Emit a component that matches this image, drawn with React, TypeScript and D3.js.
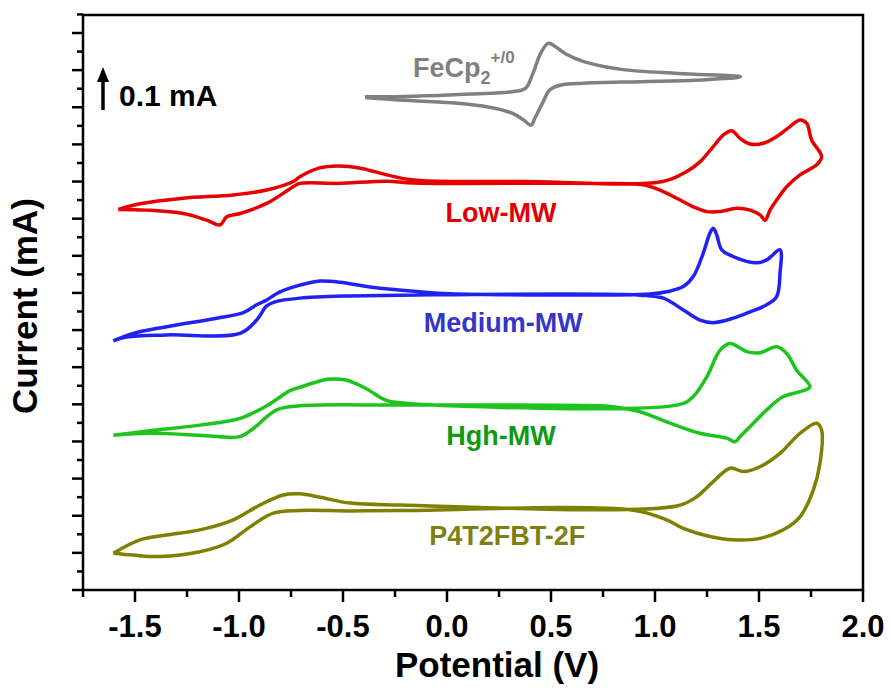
import React from "react";
import * as d3 from "d3";

// potential (V), current (mA, already offset as plotted)
const ferrocene: [number, number][] = [
  [-0.394, 1.328], [-0.159, 1.33], [0.114, 1.336], [0.313, 1.342], [0.377, 1.351],
  [0.413, 1.391], [0.45, 1.445], [0.486, 1.472], [0.522, 1.463], [0.567, 1.445],
  [0.658, 1.423], [0.839, 1.402], [1.112, 1.391], [1.411, 1.382],
  [1.202, 1.373], [0.93, 1.369], [0.658, 1.365], [0.549, 1.36], [0.495, 1.347],
  [0.459, 1.311], [0.422, 1.27], [0.404, 1.252], [0.368, 1.266], [0.313, 1.284],
  [0.204, 1.3], [0.023, 1.312], [-0.249, 1.32], [-0.394, 1.326],
];

const lowMW: [number, number][] = [
  [-1.58, 1.025], [-1.476, 1.04], [-1.268, 1.055], [-1.027, 1.064], [-0.867, 1.077],
  [-0.739, 1.1], [-0.707, 1.113], [-0.616, 1.136], [-0.525, 1.142], [-0.416, 1.136],
  [-0.289, 1.118], [-0.163, 1.104], [0.38, 1.1], [1.038, 1.1], [1.152, 1.127],
  [1.216, 1.153], [1.28, 1.194], [1.328, 1.225], [1.369, 1.237], [1.409, 1.216],
  [1.457, 1.201], [1.521, 1.203], [1.585, 1.221], [1.649, 1.248], [1.697, 1.266],
  [1.729, 1.257], [1.753, 1.212], [1.801, 1.167], [1.777, 1.145], [1.697, 1.118],
  [1.633, 1.086], [1.585, 1.05], [1.553, 1.023], [1.529, 0.996], [1.505, 1.01],
  [1.457, 1.023], [1.393, 1.028], [1.313, 1.019], [1.249, 1.019], [1.184, 1.032],
  [1.104, 1.055], [1.024, 1.077], [0.944, 1.091], [0.736, 1.095], [-0.163, 1.096],
  [-0.289, 1.101], [-0.525, 1.095], [-0.707, 1.095], [-0.739, 1.086], [-0.867, 1.041],
  [-0.995, 1.014], [-1.059, 1.005], [-1.091, 0.983], [-1.155, 0.996], [-1.268, 1.014],
  [-1.444, 1.023], [-1.58, 1.025],
];

const mediumMW: [number, number][] = [
  [-1.604, 0.671], [-1.508, 0.691], [-1.348, 0.709], [-1.107, 0.732], [-0.979, 0.747],
  [-0.915, 0.768], [-0.867, 0.781], [-0.803, 0.803], [-0.707, 0.821], [-0.611, 0.832],
  [-0.514, 0.829], [-0.37, 0.816], [-0.13, 0.803], [0.014, 0.798], [0.976, 0.797],
  [1.056, 0.803], [1.136, 0.817], [1.184, 0.844], [1.232, 0.907], [1.264, 0.961],
  [1.28, 0.974], [1.297, 0.956], [1.321, 0.916], [1.376, 0.898], [1.489, 0.881],
  [1.537, 0.889], [1.601, 0.916], [1.601, 0.853], [1.585, 0.79], [1.537, 0.768],
  [1.457, 0.749], [1.376, 0.732], [1.28, 0.72], [1.216, 0.727], [1.136, 0.754],
  [1.04, 0.786], [0.928, 0.794], [-0.226, 0.794], [-0.466, 0.792], [-0.707, 0.786],
  [-0.827, 0.776], [-0.867, 0.765], [-0.915, 0.727], [-0.995, 0.691], [-1.348, 0.687],
  [-1.54, 0.681], [-1.604, 0.671],
];

const highMW: [number, number][] = [
  [-1.604, 0.417], [-1.428, 0.429], [-1.188, 0.444], [-0.995, 0.462], [-0.867, 0.496],
  [-0.755, 0.537], [-0.707, 0.546], [-0.611, 0.563], [-0.563, 0.568], [-0.49, 0.566],
  [-0.394, 0.544], [-0.298, 0.512], [-0.226, 0.504], [1.12, 0.5], [1.184, 0.521],
  [1.249, 0.574], [1.313, 0.646], [1.361, 0.664], [1.441, 0.642], [1.505, 0.639],
  [1.585, 0.655], [1.633, 0.637], [1.681, 0.592], [1.745, 0.547], [1.697, 0.534],
  [1.617, 0.521], [1.537, 0.485], [1.473, 0.449], [1.409, 0.413], [1.385, 0.399],
  [1.345, 0.409], [1.216, 0.422], [1.056, 0.453], [0.928, 0.48], [0.816, 0.492],
  [0.736, 0.496], [-0.226, 0.498], [-0.707, 0.496], [-0.819, 0.485], [-0.931, 0.435],
  [-0.995, 0.413], [-1.188, 0.417], [-1.428, 0.422], [-1.604, 0.417],
];

const p4t2fbt: [number, number][] = [
  [-1.604, 0.099], [-1.476, 0.135], [-1.348, 0.148], [-1.188, 0.162], [-1.027, 0.189],
  [-0.899, 0.229], [-0.787, 0.256], [-0.707, 0.259], [-0.611, 0.25], [-0.466, 0.234],
  [-0.226, 0.229], [1.104, 0.226], [1.2, 0.251], [1.28, 0.292], [1.361, 0.328],
  [1.425, 0.319], [1.505, 0.332], [1.601, 0.368], [1.697, 0.422], [1.777, 0.449],
  [1.801, 0.431], [1.793, 0.341], [1.761, 0.269], [1.697, 0.197], [1.617, 0.162],
  [1.505, 0.139], [1.376, 0.135], [1.264, 0.144], [1.136, 0.166], [1.056, 0.189],
  [0.896, 0.215], [-0.226, 0.214], [-0.466, 0.213], [-0.707, 0.214], [-0.835, 0.207],
  [-0.947, 0.17], [-1.059, 0.126], [-1.188, 0.103], [-1.38, 0.09], [-1.508, 0.094],
  [-1.604, 0.099],
];

const xTickValues = [-1.5, -1.0, -0.5, 0.0, 0.5, 1.0, 1.5, 2.0];
const xMinorValues = [-1.75, -1.25, -0.75, -0.25, 0.25, 0.75, 1.25, 1.75];
const yTickValues = d3.range(0, 16).map((i) => i * 0.1);
const yMinorValues = d3.range(0, 16).map((i) => i * 0.1 + 0.05);

const curves = [
  { name: "FeCp2", data: ferrocene, color: "#808080" },
  { name: "Low-MW", data: lowMW, color: "#e60000" },
  { name: "Medium-MW", data: mediumMW, color: "#2222f0" },
  { name: "Hgh-MW", data: highMW, color: "#1ec41e" },
  { name: "P4T2FBT-2F", data: p4t2fbt, color: "#808000" },
];

const labels = [
  { text: "Low-MW", x: 0.26, y: 0.992, color: "#e00000" },
  { text: "Medium-MW", x: 0.27, y: 0.695, color: "#3535c8" },
  { text: "Hgh-MW", x: 0.26, y: 0.39, color: "#109a10" },
  { text: "P4T2FBT-2F", x: 0.29, y: 0.12, color: "#7f7f10" },
];

export default function App() {
  const width = 891;
  const height = 688;
  const left = 83;
  const right = 863;
  const top = 15;
  const bottom = 590;
  const font = "'Liberation Sans', Arial, sans-serif";

  const x = d3.scaleLinear().domain([-1.75, 2.0]).range([left, right]);
  const y = d3.scaleLinear().domain([0, 1.5]).range([bottom, 33]);

  const line = d3
    .line<[number, number]>()
    .x((d) => x(d[0]))
    .y((d) => y(d[1]))
    .curve(d3.curveCatmullRom.alpha(0.5));

  return (
    <svg
      width={width}
      height={height}
      style={{ position: "absolute", left: 0, top: 0, background: "#fff" }}
      fontFamily={font}
      fontWeight="bold"
    >
      {curves.map((c) => (
        <path
          key={c.name}
          d={line(c.data) || ""}
          fill="none"
          stroke={c.color}
          strokeWidth={3.5}
          strokeLinejoin="round"
        />
      ))}

      {/* frame */}
      <rect
        x={left}
        y={top}
        width={right - left}
        height={bottom - top}
        fill="none"
        stroke="#000"
        strokeWidth={2.5}
      />

      {/* x ticks */}
      {xTickValues.map((v) => (
        <g key={"xt" + v}>
          <line x1={x(v)} x2={x(v)} y1={bottom} y2={bottom + 12} stroke="#000" strokeWidth={2.5} />
          <text x={x(v)} y={637} fontSize={31} textAnchor="middle">
            {v.toFixed(1)}
          </text>
        </g>
      ))}
      {xMinorValues.map((v) => (
        <line key={"xm" + v} x1={x(v)} x2={x(v)} y1={bottom} y2={bottom + 7} stroke="#000" strokeWidth={2.5} />
      ))}

      {/* y ticks */}
      {yTickValues.map((v) => (
        <line key={"yt" + v} x1={left - 11} x2={left} y1={y(v)} y2={y(v)} stroke="#000" strokeWidth={2.5} />
      ))}
      {yMinorValues.map((v) => (
        <line key={"ym" + v} x1={left - 6} x2={left} y1={y(v)} y2={y(v)} stroke="#000" strokeWidth={2.5} />
      ))}

      <text x={497} y={677} fontSize={35} textAnchor="middle">
        Potential (V)
      </text>
      <text transform="translate(37,306) rotate(-90)" fontSize={35} textAnchor="middle">
        Current (mA)
      </text>

      {/* scale bar */}
      <line x1={103} x2={103} y1={110} y2={78} stroke="#000" strokeWidth={3.5} />
      <path d="M103,67 L97,82 L109,82 Z" fill="#000" />
      <text x={119} y={106} fontSize={30}>
        0.1 mA
      </text>

      <text x={413} y={77} fontSize={27} fill="#808080">
        FeCp
        <tspan fontSize={18} dy={7}>2</tspan>
        <tspan fontSize={17} dy={-21}>+/0</tspan>
      </text>

      {labels.map((l) => (
        <text key={l.text} x={x(l.x)} y={y(l.y)} fontSize={27} fill={l.color} textAnchor="middle">
          {l.text}
        </text>
      ))}
    </svg>
  );
}
